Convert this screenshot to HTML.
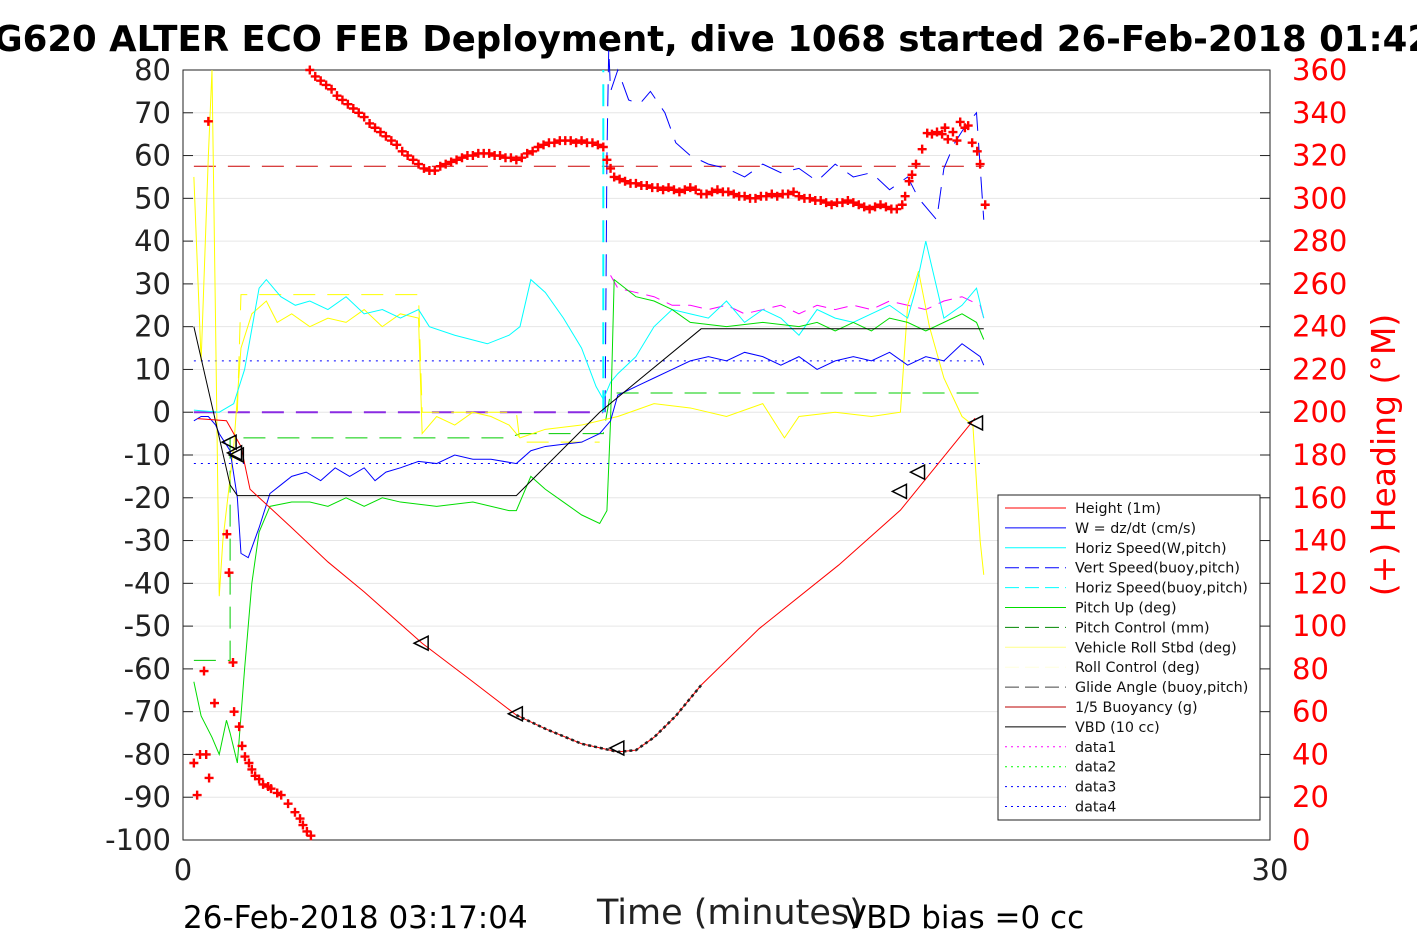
<!DOCTYPE html>
<html><head><meta charset="utf-8">
<style>
body{margin:0;background:#fff;width:1417px;height:945px;overflow:hidden;font-family:"DejaVu Sans","Liberation Sans",sans-serif;}
svg text{font-family:"DejaVu Sans","Liberation Sans",sans-serif;}
</style></head>
<body>
<svg id="chart" width="1417" height="945" xmlns="http://www.w3.org/2000/svg">
<text x="700" y="51" text-anchor="middle" font-size="35.5" font-weight="bold">SG620 ALTER ECO FEB Deployment, dive 1068 started 26-Feb-2018 01:42</text>
<text x="183" y="928" font-size="31">26-Feb-2018 03:17:04</text>
<text x="597" y="924" font-size="35" fill="#222">Time (minutes)</text>
<text x="845" y="928" font-size="31">VBD bias =0 cc</text>
<text transform="translate(1395,455) rotate(-90)" text-anchor="middle" font-size="33" fill="#f00">(+) Heading (°M)</text>
<g id="g"></g>
</svg>
<script>
const xTicks=[0,30];
const yTicks=[80,70,60,50,40,30,20,10,0,-10,-20,-30,-40,-50,-60,-70,-80,-90,-100];
const hTicks=[360,340,320,300,280,260,240,220,200,180,160,140,120,100,80,60,40,20,0];
const heightT=[0.4,1.2,1.6,1.85,3,4,5,6.6,8,9.2,10,11,12,12.5,13,13.6,14.3,15.9,18.1,19.8,21.86];
const heightV=[-1.5,-2,-8,-18,-27,-35,-42,-54,-63,-70.8,-74,-77.5,-79.4,-79,-76,-71,-63.8,-50.6,-35.7,-22.9,-1.4];
const wT=[0.3,0.5,0.7,0.9,1.0,1.3,1.5,1.6,1.8,2.1,2.4,2.7,3,3.4,3.8,4.2,4.6,5,5.3,5.6,6,6.5,7,7.5,8,8.5,9.2,9.6,10,10.5,11,11.5,11.8,12,12.5,13,13.5,14,14.5,15,15.5,16,16.5,17,17.5,18,18.5,19,19.5,20,20.5,21,21.5,22,22.1];
const wV=[-2,-1,-1,-3,-5,-9,-20,-33,-34,-27,-19,-17,-15,-14,-16,-13,-15,-13,-16,-14,-13,-11.5,-12,-10,-11,-11,-12,-9,-8,-7.5,-7,-5,-2,4,6,8,10,12,13,12,14,13,11,13,10,12,13,12,14,11,13,12,16,13,11];
const hsT=[0.3,1,1.4,1.7,2.1,2.3,2.7,3.1,3.5,4,4.5,5,5.5,6,6.5,6.8,7.5,8.4,9,9.3,9.6,10,10.5,11,11.4,11.6,11.8,12,12.5,13,13.5,14,14.5,15,15.5,16,16.5,17,17.5,18,18.5,19,19.5,20,20.2,20.5,21,21.5,21.9,22.1];
const hsV=[0.5,0,2,10,29,31,27,25,26,24,27,23,24,22,24,20,18,16,18,20,31,28,22,15,6,3,7,9,13,20,24,23,22,26,21,24,22,18,24,22,21,23,25,22,28,40,22,25,29,22];
const pitchT=[0.3,0.5,0.8,1,1.2,1.3,1.5,1.7,1.9,2.1,2.4,3,3.5,4,4.5,5,5.5,6,7,8,9,9.2,9.6,10,10.5,11,11.5,11.7,11.8,11.9,12.5,13,13.5,14,15,16,17,17.5,18,18.5,19,19.5,20,20.5,21,21.5,21.9,22.1];
const pitchV=[-63,-71,-76,-80,-72,-75,-82,-60,-40,-28,-22,-21,-21,-22,-20,-22,-20,-21,-22,-21,-23,-23,-15,-18,-21,-24,-26,-23,-2,31,27,26,24,21,20,21,20,21,19,21,19,22,21,19,21,23,21,17];
const rollT=[0.3,0.5,0.7,0.8,0.9,1,1.1,1.4,1.6,1.9,2.3,2.6,3,3.5,4,4.5,5,5.5,6,6.5,6.6,7,7.5,8,8.5,9,9.3,10,11,11.5,12,13,14,15,16,16.6,17,18,19,19.8,20,20.3,20.6,21,21.5,21.8,22,22.1];
const rollV=[55,12,60,80,20,-43,-30,-8,15,23,26,21,23,20,22,21,24,20,23,22,-5,-1,-3,0,-1,-3,-6,-4,-3,-2,-1,2,1,-1,2,-6,-1,0,-1,0,25,33,20,8,-1,-3,-30,-38];
const vbdT=[0.3,1.3,1.5,9.2,11.5,14.3,22.1];
const vbdV=[20,-17,-19.5,-19.5,0,19.5,19.5];
const vsbT=[11.65,11.7,11.75,11.8,12,12.3,12.6,12.9,13.3,13.6,14,14.5,15,15.5,16,16.5,17,17.5,18,18.5,19,19.5,20,20.3,20.6,20.8,21,21.3,21.6,21.9,22.1];
const vsbV=[0,60,85,75,80,73,72,75,70,63,60,58,57,55,58,56,57,54,58,55,56,52,55,50,47,45,57,63,67,70,45];
const magT=[11.8,12,12.5,13,13.5,14,14.5,15,15.5,16,16.5,17,17.5,18,18.5,19,19.5,20,20.5,21,21.5,22,22.1];
const magV=[32,29,28,27,25,25,24,25,23,24,25,23,25,24,25,24,26,25,24,26,27,25,22];
// heading (right axis), three segments
const headAT=[0.3,0.39,0.47,0.64,0.72,0.58,0.87,0.7,1.21,1.27,1.38,1.41,1.55,1.63,1.71,1.82,1.9,1.99,2.1,2.21,2.35,2.43,2.6,2.71,2.9,3.09,3.23,3.31,3.42,3.53];
const headAV=[36,21,40,40,29,79,64,336,143,125,83,60,53,44,39,36,33,30,28.5,26,25,24,22,21,17,13,10,7,4,2];
const headBT=[3.5,3.65,3.8,3.95,4.1,4.25,4.4,4.55,4.7,4.85,5.0,5.15,5.3,5.45,5.6,5.75,5.9,6.05,6.2,6.35,6.5,6.65,6.8,6.95,7.1,7.25,7.4,7.55,7.7,7.85,8.0,8.15,8.3,8.45,8.6,8.75,8.9,9.05,9.2,9.35,9.5,9.65,9.8,9.95,10.1,10.25,10.4,10.55,10.7,10.85,11.0,11.15,11.3,11.45,11.6];
const headBV=[360,357,355,353,351,348,346,344,342,340,338,335,333,331,329,327,325,322,320,318,316,314,313,313,315,316,317,318,319,320,320,321,321,321,320,320,319,319,318,319,321,322,324,325,326,326,327,327,327,326,327,326,326,325,324];
const headCT=[11.7,11.8,11.9,12.05,12.2,12.35,12.5,12.65,12.8,12.95,13.1,13.25,13.4,13.55,13.7,13.85,14,14.15,14.3,14.45,14.6,14.75,14.9,15.05,15.2,15.35,15.5,15.65,15.8,15.95,16.1,16.25,16.4,16.55,16.7,16.85,17,17.15,17.3,17.45,17.6,17.75,17.9,18.05,18.2,18.35,18.5,18.65,18.8,18.95,19.1,19.25,19.4,19.55,19.7,19.85];
const headCV=[318,314,310,309,308,307,307,306,306,305,305,304,305,304,303,304,305,304,302,302,303,304,303,303,302,301,301,300,300,301,301,302,301,302,302,303,301,300,300,299,299,298,297,298,298,299,298,297,296,295,296,297,296,295,295,297];
const headDT=[19.93,20.04,20.12,20.23,20.4,20.54,20.67,20.81,20.95,21.03,21.11,21.25,21.36,21.45,21.58,21.67,21.78,21.92,22.0,22.14];
const headDV=[301,308,311,316,323,330.5,330,331,330,333,327.6,331,327,335.7,333,334,326,322,316,297];
const tri=[[1.3,-7],[1.45,-9.5],[1.5,-10],[6.6,-54],[9.2,-70.5],[12,-78.5],[19.8,-18.5],[20.3,-14],[21.9,-2.5]];

const X0=183,X1=1270,Y0=70,Y1=840;
const x=t=>X0+(t-xTicks[0])/(xTicks[1]-xTicks[0])*(X1-X0);
const y=v=>Y1-(v+100)/180*(Y1-Y0);
const yh=h=>Y1-h/360*(Y1-Y0);
const NS="http://www.w3.org/2000/svg";
const G=document.getElementById('g');
function mk(tag,attrs,name){const e=document.createElementNS(NS,tag);for(const k in attrs)e.setAttribute(k,attrs[k]);


G.appendChild(e);return e;}
yTicks.forEach(v=>{mk('line',{x1:X0,x2:X1,y1:y(v),y2:y(v),stroke:'#e6e6e6','stroke-width':1},'grid-line');});
mk('rect',{x:X0,y:Y0,width:X1-X0,height:Y1-Y0,fill:'none',stroke:'#222','stroke-width':1},'plot-frame');
yTicks.forEach(v=>{mk('line',{x1:X0,x2:X0+10,y1:y(v),y2:y(v),stroke:'#222'},'y-tick');
const t=mk('text',{x:X0-12,y:y(v)+10,'text-anchor':'end','font-size':29,fill:'#222'},'y-tick-label');t.textContent=v;});
hTicks.forEach(h=>{mk('line',{x1:X1-10,x2:X1,y1:yh(h),y2:yh(h),stroke:'#222'},'right-tick');
const t=mk('text',{x:X1+22,y:yh(h)+10,'font-size':29,fill:'#f00'},'right-tick-label');t.textContent=h;});
xTicks.forEach(v=>{const t=mk('text',{x:x(v),y:Y1+40,'text-anchor':'middle','font-size':29,fill:'#222'},'x-tick-label');t.textContent=v;});
function poly(T,V,stroke,dash,name,w){const p=T.map((t,i)=>x(t)+','+y(V[i])).join(' ');
return mk('polyline',{points:p,fill:'none',stroke:stroke,'stroke-width':w||1,'stroke-dasharray':dash||'none'},name);}
poly([0.3,22.1],[57.5,57.5],'#c00','22,12','glide-angle-line');
poly([0.3,22.1],[12,12],'#00f','2,5','data-dotted-upper');
poly([0.3,22.1],[-12,-12],'#00f','2,5','data-dotted-lower');
poly([0.3,11.6],[0,0],'#8a2be2','22,12','buoyancy-zero-line',2);
poly([0.3,1.3,1.3,9,9.3,11.6,11.8,22.1],[-58,-58,-6,-6,-5,-5,4.5,4.5],'#0c0','22,12','pitch-control-line');
poly([1.5,1.6,6.5,6.6,9.2,9.3,11.5],[0,27.5,27.5,0,0,-7,-7],'#ff0','22,12','roll-control-line');
poly([11.6,11.6],[0,80],'#0ff','22,12','horiz-speed-buoy-line',2);
poly(vsbT,vsbV,'#00f','22,12','vert-speed-buoy-line');
poly(magT,magV,'#f0f','14,8','magenta-dashed-line');
poly(rollT,rollV,'#ff0','','vehicle-roll-line');
poly(hsT,hsV,'#0ff','','horiz-speed-line');
poly(pitchT,pitchV,'#0d0','','pitch-up-line');
poly(wT,wV,'#00f','','w-speed-line');
poly(vbdT,vbdV,'#000','','vbd-line');
poly(heightT,heightV,'#f00','','height-line');
const hi=heightT.map((t,i)=>[t,heightV[i]]).filter(p=>p[0]>=9.2&&p[0]<=14.3);
poly(hi.map(p=>p[0]),hi.map(p=>p[1]),'#222','3,3','height-dotted-overlay',2.5);
tri.forEach(p=>{const cx=x(p[0]),cy=y(p[1]);
mk('polygon',{points:`${cx-8},${cy} ${cx+6},${cy-7} ${cx+6},${cy+7}`,fill:'none',stroke:'#000','stroke-width':1.5},'triangle-marker');});
[[headAT,headAV],[headBT,headBV],[headCT,headCV],[headDT,headDV]].forEach(([T,V])=>{
T.forEach((t,i)=>{if(V[i]===undefined)return;const cx=x(t),cy=yh(V[i]);
mk('path',{d:`M${cx-4.5},${cy}H${cx+4.5}M${cx},${cy-4.5}V${cy+4.5}`,stroke:'#f00','stroke-width':2.4},'heading-marker');});});
mk('rect',{x:998,y:495,width:262,height:325,fill:'#fff',stroke:'#222'},'legend-box');
const legNames=['Height (1m)','W = dz/dt (cm/s)','Horiz Speed(W,pitch)','Vert Speed(buoy,pitch)','Horiz Speed(buoy,pitch)','Pitch Up (deg)','Pitch Control (mm)','Vehicle Roll Stbd (deg)','Roll Control (deg)','Glide Angle (buoy,pitch)','1/5 Buoyancy (g)','VBD (10 cc)','data1','data2','data3','data4'];
const legCol=['#f00','#00f','#0ff','#00f','#0ff','#0d0','#080','#ff8','#ffd','#444','#b00','#000','#f0f','#0f0','#00f','#00f'];
const legDash=['','','','14,6','14,6','','14,6','','14,6','14,6','','','2,4','2,4','2,4','2,4'];
legNames.forEach((n,i)=>{const yy=508+i*19.9;
mk('line',{x1:1005,x2:1066,y1:yy,y2:yy,stroke:legCol[i],'stroke-dasharray':legDash[i]||'none'},'legend-swatch');
const t=mk('text',{x:1075,y:yy+5,'font-size':14.3,fill:'#111'},'legend-entry');t.textContent=n;});
</script>
</body></html>
